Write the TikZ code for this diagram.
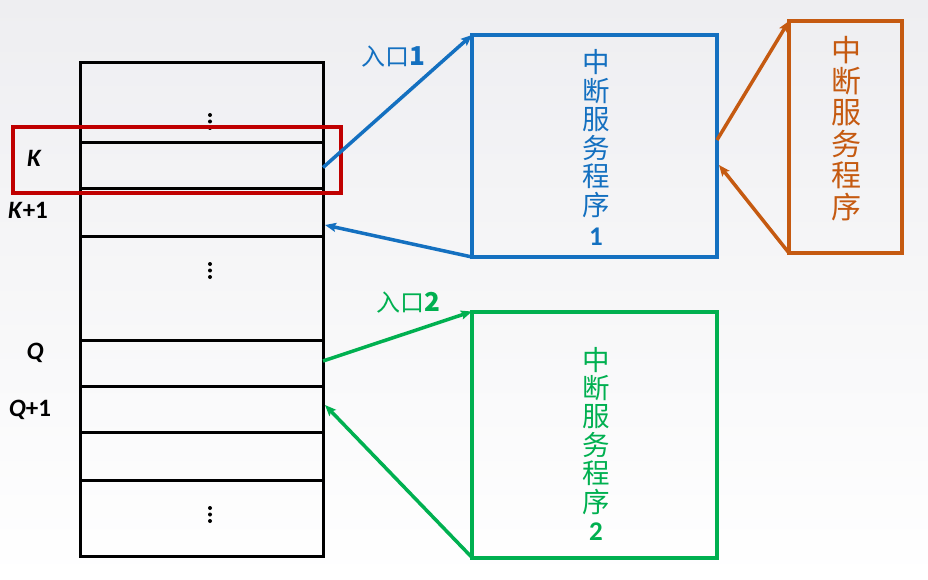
\documentclass[tikz,border=0pt]{standalone}
\usepackage{fontspec}
\setmainfont{Carlito}
\newfontfamily\cjk{Noto Sans CJK SC}
\usetikzlibrary{arrows.meta,calc}
\definecolor{cblue}{RGB}{20,112,192}
\definecolor{corange}{RGB}{197,90,17}
\definecolor{cgreen}{RGB}{0,176,80}
\definecolor{cred}{RGB}{192,0,0}
\definecolor{bgtop}{RGB}{238,238,241}
\tikzset{
  row/.style={draw=black,line width=3pt,minimum width=243pt,inner sep=0pt,outer sep=0pt},
  isr/.style={draw=#1,line width=4pt,inner sep=0pt,outer sep=0pt},
  conn/.style={draw=#1,line width=3.5pt,-{Stealth[length=11pt,width=9pt,inset=2pt]}},
  vchar/.style={text=#1,font=\cjk\fontsize{27.5}{27.5}\selectfont,inner sep=0pt},
  vnum/.style={text=#1,font=\bfseries\fontsize{27}{27}\selectfont,inner sep=0pt},
  lab/.style={font=\bfseries\fontsize{25}{25}\selectfont,inner sep=0pt},
  elab/.style={text=#1,font=\cjk\fontsize{24}{24}\selectfont,inner sep=0pt},
  dot/.style={circle,fill=black,inner sep=0pt,minimum size=4pt}
}
\begin{document}
\begin{tikzpicture}[x=1pt,y=-1pt]
\shade[top color=bgtop,bottom color=white] (0,0) rectangle (928,580);
\useasboundingbox (0,0) rectangle (928,580);
% table rows
\node[row,minimum height=80pt] (r1) at (201.5,103) {};
\node[row,minimum height=45pt] (r2) at (201.5,165.5) {};
\node[row,minimum height=48pt] (r3) at (201.5,212) {};
\node[row,minimum height=104pt] (r4) at (201.5,288) {};
\node[row,minimum height=46pt] (r5) at (201.5,363) {};
\node[row,minimum height=46pt] (r6) at (201.5,409) {};
\node[row,minimum height=48pt] (r7) at (201.5,456) {};
\node[row,minimum height=76pt] (r8) at (201.5,518) {};
\foreach \y [count=\j] in {115,264,508}{
  \node[dot] (da\j) at (210,\y) {};
  \node[dot] (db\j) at (210,\y+6.5) {};
  \node[dot] (dc\j) at (210,\y+13) {};
}
% red highlight
\node[draw=cred,line width=4.5pt,minimum width=328pt,minimum height=66pt,inner sep=0pt] (hl) at (177,160) {};
% labels
\node[lab] (lk) at (34,158) {\itshape K};
\node[lab] (lk1) at (28,210) {\textit{K}+1};
\node[lab] (lq) at (35,353) {\itshape Q};
\node[lab] (lq1) at (30,410) {\textit{Q}+1};
% ISR boxes
\node[isr=cblue,minimum width=245pt,minimum height=222pt] (blue) at (594.5,146) {};
\node[isr=corange,minimum width=113pt,minimum height=232pt] (orange) at (845.5,137) {};
\node[isr=cgreen,minimum width=245pt,minimum height=246pt] (green) at (594.5,434.5) {};
% vertical texts
\foreach \c [count=\i] in {中,断,服,务,程,序}{
  \node[vchar=cblue] (bt\i) at (596,{62+28.6*(\i-1)}) {\c};
  \node[vchar=cgreen] (gt\i) at (596,{360+28.4*(\i-1)}) {\c};
  \node[vchar=corange,font=\cjk\fontsize{30}{30}\selectfont] (ot\i) at (846,{50+31.4*(\i-1)}) {\c};
}
\node[vnum=cblue] (bn) at (596,237) {1};
\node[vnum=cgreen] (gn) at (596,532) {2};
% entry labels
\node[elab=cblue] (e1) at (393,57) {入口\bfseries\fontsize{26}{26}\selectfont 1};
\node[elab=cgreen] (e2) at (408,303) {入口\bfseries\fontsize{26}{26}\selectfont 2};
% connectors
\draw[conn=cblue] ($(r2.east)+(0,2)$) -- (blue.north west);
\draw[conn=cblue] (blue.south west) -- ($(r3.east)+(2,13)$);
\draw[conn=cgreen] ($(r5.east)+(0,-2)$) -- (green.north west);
\draw[conn=cgreen] (green.south west) -- ($(r6.east)+(2,-4)$);
\draw[conn=corange] ($(blue.east)+(0,-6)$) -- (orange.north west);
\draw[conn=corange] (orange.south west) -- ($(blue.east)+(2,19)$);
\end{tikzpicture}
\end{document}
